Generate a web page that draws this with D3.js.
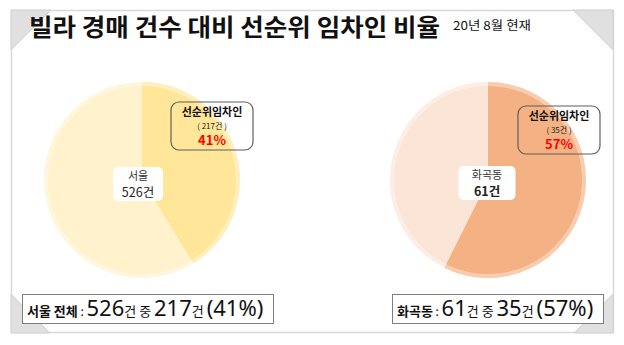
<!DOCTYPE html>
<html>
<head>
<meta charset="utf-8">
<script src="https://cdn.jsdelivr.net/npm/d3@7"></script>
<style>
  html, body { margin: 0; padding: 0; background: #fff; }
  svg { display: block; font-family: "Noto Sans CJK KR", "Noto Sans", sans-serif; }
  .num { font-family: "Noto Sans", "Open Sans", sans-serif; }
</style>
</head>
<body>
<svg width="624" height="345"></svg>
<script>
// 지역별 빌라 경매 건수와 선순위 임차인 건수
const regions = ["서울", "화곡동"];
const summaryNames = ["서울 전체", "화곡동"];
const totals = [526, 61];
const seniorCounts = [217, 35];
const seniorLabel = "선순위임차인";
const lightColors = ["#FFF2CC", "#FBE5D6"];
const darkColors = ["#FFE699", "#F4B183"];

const svg = d3.select("svg");

// 프레임과 접힌 모서리
const frame = svg.append("g");
frame.append("rect")
    .attr("x", 11.5).attr("y", 10.5)
    .attr("width", 602).attr("height", 322)
    .attr("fill", "#fff")
    .attr("stroke", "#d9d9d9")
    .attr("stroke-width", 1.5);

const corners = [
    [[11, 10], [51, 10], [11, 50]],
    [[573, 10], [613, 10], [613, 50]],
    [[11, 294], [11, 333], [50, 333]],
    [[613, 294], [613, 333], [574, 333]]
];
frame.selectAll("path.corner")
    .data(corners)
    .enter().append("path")
    .attr("class", "corner")
    .attr("d", d => d3.line()(d) + "Z")
    .attr("fill", "#e0e0e0")
    .attr("stroke", "#d2d2d2")
    .attr("stroke-width", 1);

// 제목
svg.append("text")
    .attr("x", 29).attr("y", 36)
    .attr("font-size", 24)
    .attr("font-weight", "bold")
    .attr("fill", "#111")
    .attr("textLength", 411)
    .attr("lengthAdjust", "spacingAndGlyphs")
    .text("빌라 경매 건수 대비 선순위 임차인 비율");

svg.append("text")
    .attr("x", 453).attr("y", 30)
    .attr("font-size", 12)
    .attr("fill", "#111")
    .attr("textLength", 78)
    .attr("lengthAdjust", "spacingAndGlyphs")
    .text("20년 8월 현재");

// 파이 위치
const cx = d3.scalePoint().domain(regions).range([142, 488]);
const cy = 180, radius = 98;

const pie = d3.pie().sort(null).value(d => d);
const arc = d3.arc().innerRadius(0).outerRadius(radius);

regions.forEach((name, i) => {
    const total = totals[i], senior = seniorCounts[i];
    const pct = Math.round(senior / total * 100);
    const g = svg.append("g").attr("transform", `translate(${cx(name)},${cy})`);

    g.selectAll("path")
        .data(pie([senior, total - senior]))
        .enter().append("path")
        .attr("d", arc)
        .attr("fill", (d, j) => j === 0 ? darkColors[i] : lightColors[i]);

    // 가장자리의 밝은 테두리
    g.append("circle")
        .attr("r", radius - 2)
        .attr("fill", "none")
        .attr("stroke", "#fff")
        .attr("stroke-opacity", 0.35)
        .attr("stroke-width", 4);

    // 가운데 라벨
    const mid = g.append("g").attr("transform", i === 0 ? "translate(-4,4)" : "translate(-1,3)");
    const bw = i === 0 ? 50 : 57;
    mid.append("rect")
        .attr("x", -bw / 2).attr("y", -17)
        .attr("width", bw).attr("height", 34)
        .attr("rx", 5)
        .attr("fill", "#fff");
    mid.append("text")
        .attr("y", -4)
        .attr("text-anchor", "middle")
        .attr("font-size", 11)
        .attr("fill", "#333")
        .text(name);
    mid.append("text")
        .attr("y", 13)
        .attr("text-anchor", "middle")
        .attr("font-size", 12.5)
        .attr("font-weight", i === 0 ? "normal" : "bold")
        .attr("fill", "#222")
        .text(total + "건");

    // 선순위임차인 라벨
    const call = g.append("g").attr("transform", i === 0 ? "translate(70,-54)" : "translate(71,-50)");
    call.append("rect")
        .attr("x", -41).attr("y", -24)
        .attr("width", 82).attr("height", 48)
        .attr("rx", 8)
        .attr("fill", "none")
        .attr("stroke", "#5f5f5f")
        .attr("stroke-width", 1.2);
    call.append("text")
        .attr("y", -10)
        .attr("text-anchor", "middle")
        .attr("font-size", 11)
        .attr("font-weight", "bold")
        .attr("fill", "#111")
        .text(seniorLabel);
    call.append("text")
        .attr("y", 3)
        .attr("text-anchor", "middle")
        .attr("font-size", 8)
        .attr("fill", "#222")
        .text(`( ${senior}건 )`);
    call.append("text")
        .attr("y", 18.5)
        .attr("text-anchor", "middle")
        .attr("font-size", 13)
        .attr("font-weight", "bold")
        .attr("fill", "#ff0000")
        .text(pct + "%");

    // 하단 요약
    const boxX = i === 0 ? 22 : 392;
    const boxW = i === 0 ? 251 : 211;
    svg.append("rect")
        .attr("x", boxX + 0.5).attr("y", 294.5)
        .attr("width", boxW).attr("height", 29)
        .attr("fill", "#fff")
        .attr("stroke", "#7f7f7f")
        .attr("stroke-width", 1);
    const t = svg.append("text")
        .attr("x", boxX + 5).attr("y", 316)
        .attr("fill", "#111");
    t.append("tspan").attr("font-size", 13).attr("font-weight", "bold").text(summaryNames[i]);
    t.append("tspan").attr("font-size", 12).text(" : ");
    t.append("tspan").attr("class", "num").attr("font-size", 22).text(total);
    t.append("tspan").attr("font-size", 13).text("건 중 ");
    t.append("tspan").attr("class", "num").attr("font-size", 22).text(senior);
    t.append("tspan").attr("font-size", 13).text("건 ");
    t.append("tspan").attr("class", "num").attr("font-size", 22).text(`(${pct}%)`);
});
</script>
</body>
</html>
